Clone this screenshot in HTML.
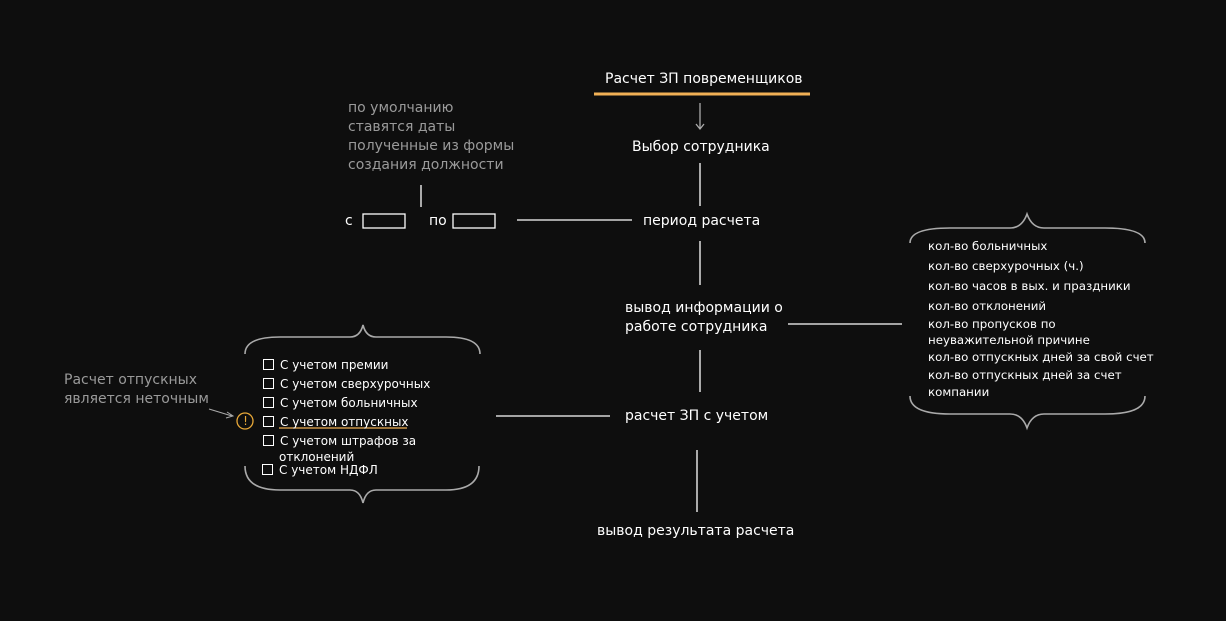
<!DOCTYPE html>
<html><head><meta charset="utf-8"><style>
body{margin:0;background:#0e0e0e;}
#c{position:relative;width:1226px;height:621px;overflow:hidden;background:#0e0e0e;font-family:"DejaVu Sans","Liberation Sans",sans-serif;color:#fff;}
.t{position:absolute;white-space:nowrap;font-size:14px;line-height:18px;}
.s{position:absolute;white-space:nowrap;font-size:12px;line-height:16px;}
.r{font-size:11.8px;}
.g{color:#9a9a9a;}
svg{position:absolute;left:0;top:0;}
.cb{display:inline-block;width:9px;height:9px;border:1px solid #fff;margin-right:6px;vertical-align:-1px;}
</style></head><body><div id="c">
<svg width="1226" height="621" fill="none">
<line x1="594" y1="94" x2="810" y2="94" stroke="#f0b055" stroke-width="3"/>
<line x1="700" y1="103" x2="700" y2="129" stroke="#aaa" stroke-width="1.3"/>
<path d="M696 124 L700 129 L704 124" stroke="#aaa" stroke-width="1.3"/>
<g stroke="#fff" stroke-width="1.3">
<line x1="700" y1="163" x2="700" y2="206"/>
<line x1="517" y1="220" x2="632" y2="220"/>
<line x1="421" y1="185" x2="421" y2="207"/>
<line x1="700" y1="241" x2="700" y2="285"/>
<line x1="788" y1="324" x2="902" y2="324"/>
<line x1="700" y1="350" x2="700" y2="392"/>
<line x1="496" y1="416" x2="610" y2="416"/>
<line x1="697" y1="450" x2="697" y2="512"/>
<rect x="363" y="214" width="42" height="14"/>
<rect x="453" y="214" width="42" height="14"/>
</g>
<g stroke="#aaa" stroke-width="1.6">
<path d="M245 354 Q245 337 280 337 L350 337 Q360 337 363 325 Q366 337 376 337 L446 337 Q480 337 480 354"/>
<path d="M245 466 Q245 490 280 490 L350 490 Q360 490 363 503 Q366 490 376 490 L446 490 Q479 490 479 466"/>
<path d="M910 243 Q910 228 950 228 L1010 228 Q1022 228 1027 214 Q1032 228 1044 228 L1105 228 Q1145 228 1145 243"/>
<path d="M910 396 Q910 414 950 414 L1010 414 Q1022 414 1027 428 Q1032 414 1044 414 L1105 414 Q1145 414 1145 396"/>
<path d="M209 409 L232 416" stroke-width="1"/>
<path d="M227 412 L233 416 L226 418" stroke-width="1"/>
</g>
<circle cx="245" cy="421" r="8" stroke="#e8a838" stroke-width="1.3"/>
<line x1="279" y1="428" x2="407" y2="428" stroke="#f0b055" stroke-width="1.3"/>
</svg>
<div class="t" style="left:605px;top:70px;">Расчет ЗП повременщиков</div>
<div class="t" style="left:632px;top:138px;">Выбор сотрудника</div>
<div class="t g" style="left:348px;top:99px;line-height:19px;">по умолчанию<br>ставятся даты<br>полученные из формы<br>создания должности</div>
<div class="t" style="left:345px;top:212px;">с</div>
<div class="t" style="left:429px;top:212px;">по</div>
<div class="t" style="left:643px;top:212px;">период расчета</div>
<div class="t" style="left:625px;top:299px;line-height:19px;">вывод информации о<br>работе сотрудника</div>
<div class="t" style="left:625px;top:407px;">расчет ЗП с учетом</div>
<div class="t" style="left:597px;top:522px;">вывод результата расчета</div>
<div class="t g" style="left:64px;top:371px;line-height:19px;">Расчет отпускных<br>является неточным</div>
<div class="s" style="left:242px;top:413px;color:#e8a838;width:7px;text-align:center;">!</div>
<div class="s" style="left:263px;top:357px;"><span class="cb"></span>С учетом премии</div>
<div class="s" style="left:263px;top:376px;"><span class="cb"></span>С учетом сверхурочных</div>
<div class="s" style="left:263px;top:395px;"><span class="cb"></span>С учетом больничных</div>
<div class="s" style="left:263px;top:414px;"><span class="cb"></span>С учетом отпускных</div>
<div class="s" style="left:263px;top:433px;"><span class="cb"></span>С учетом штрафов за</div>
<div class="s" style="left:279px;top:449px;">отклонений</div>
<div class="s" style="left:262px;top:462px;"><span class="cb"></span>С учетом НДФЛ</div>
<div class="s r" style="left:928px;top:238px;">кол-во больничных</div>
<div class="s r" style="left:928px;top:258px;">кол-во сверхурочных (ч.)</div>
<div class="s r" style="left:928px;top:278px;">кол-во часов в вых. и праздники</div>
<div class="s r" style="left:928px;top:298px;">кол-во отклонений</div>
<div class="s r" style="left:928px;top:316px;">кол-во пропусков по</div>
<div class="s r" style="left:928px;top:332px;">неуважительной причине</div>
<div class="s r" style="left:928px;top:349px;">кол-во отпускных дней за свой счет</div>
<div class="s r" style="left:928px;top:367px;">кол-во отпускных дней за счет</div>
<div class="s r" style="left:928px;top:384px;">компании</div>
</div></body></html>
